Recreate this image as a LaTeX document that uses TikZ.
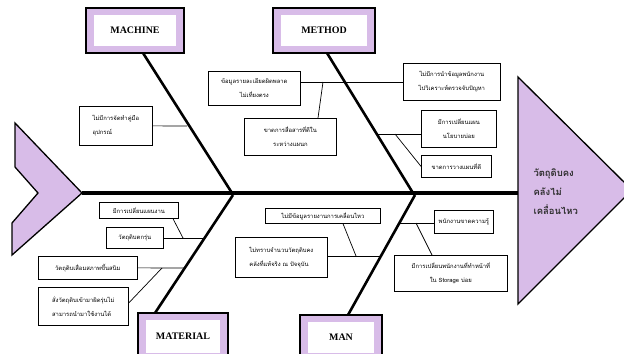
\documentclass[tikz,border=0pt]{standalone}
\usepackage{fontspec}
\setmainfont{Liberation Serif}
\newfontfamily\thaifont[Script=Thai]{Loma}
\definecolor{lav}{HTML}{D8BCE8}
\definecolor{headtxt}{HTML}{2E2E2E}
\begin{document}
\begin{tikzpicture}[x=1bp,y=-1bp,
  sub/.style={draw=black,line width=0.7bp,fill=white,font=\thaifont\fontsize{5.9}{14}\selectfont,align=center,inner sep=0pt},
  twig/.style={draw=black,line width=0.7bp},
  bone/.style={draw=black,line width=2.6bp},
  catlbl/.style={font=\bfseries\fontsize{10}{12}\selectfont}]
\useasboundingbox (0,0) rectangle (624,353);
% tail
\draw[fill=lav,line width=1.3bp] (15,123) -- (82,193) -- (12,255) -- (12,223) -- (38,193) -- (15,167) -- cycle;
% head
\draw[fill=lav,line width=1.3bp] (518,77) -- (632,190) -- (518,304) -- cycle;
\node[anchor=west,font=\thaifont\bfseries\fontsize{9.5}{19}\selectfont,text=headtxt,align=left] (head) at (530,192) {วัตถุดิบคง\\คลังไม่\\เคลื่อนไหว};
% spine
\coordinate (sp0) at (82,193);
\coordinate (sp1) at (518,193);
\draw[line width=3.6bp] (sp0) -- (sp1);
% category boxes
\foreach \nm/\xa/\ya/\xb/\yb/\lbl in {mach/86/8/184/53/MACHINE, meth/273/8/375/53/METHOD, mat/138/313/228/360/MATERIAL, man/300/315/382/360/MAN}{
  \draw[fill=lav,line width=1.2bp] (\xa,\ya) rectangle (\xb,\yb);
  \fill[white] (\xa+8,\ya+7) rectangle (\xb-8,\yb-7);
  \node[catlbl] (\nm) at ({(\xa+\xb)/2},{(\ya+\yb)/2}) {\lbl};
}
% bones
\coordinate (b1a) at (143,53);  \coordinate (b1b) at (232,193);
\coordinate (b2a) at (327,53);  \coordinate (b2b) at (413,193);
\coordinate (b3a) at (155,313); \coordinate (b3b) at (233,195);
\coordinate (b4a) at (348,315); \coordinate (b4b) at (415,195);
\draw[bone] (b1a) -- (b1b);
\draw[bone] (b2a) -- (b2b);
\draw[bone] (b3a) -- (b3b);
\draw[bone] (b4a) -- (b4b);
% MACHINE
\node[sub,minimum width=73bp,minimum height=39bp,align=left,anchor=north west] (m1) at (79,106) {ไม่มีการจัดทำคู่มือ\\อุปกรณ์};
\coordinate (m1j) at (187,126);
\draw[twig] (m1.east) -- (m1j);
% METHOD
\node[sub,minimum width=92bp,minimum height=34bp,anchor=north west] (t1) at (208,71) {ข้อมูลรายละเอียดผิดพลาด\\ไม่เที่ยงตรง};
\node[sub,minimum width=92bp,minimum height=37bp,anchor=north west] (t2) at (244,118) {ขาดการสื่อสารที่ดีใน\\ระหว่างแผนก};
\node[sub,minimum width=97bp,minimum height=37bp,anchor=north west] (t3) at (403,63) {ไม่มีการนำข้อมูลพนักงาน\\ไปวิเคราะห์ตรวจจับปัญหา};
\node[sub,minimum width=75bp,minimum height=37bp,anchor=north west] (t4) at (421,110) {มีการเปลี่ยนแผน\\นโยบายบ่อย};
\node[sub,minimum width=70bp,minimum height=22bp,anchor=north west] (t5) at (421,155) {ขาดการวางแผนที่ดี};
\draw[twig] (t1.east |- 0,82) -- (t3.west |- 0,82);
\coordinate (t2j) at (323,82);
\draw[twig] (t2j) -- (t2.north -| 318,0);
\coordinate (t4j) at (377,134);
\draw[twig] (t4j) -- (t4.west |- 0,134);
\coordinate (t5j) at (395,134);
\draw[twig] (t5j) -- (t5.west);
% MATERIAL
\node[sub,minimum width=79bp,minimum height=16bp,anchor=north west] (a1) at (99,202) {มีการเปลี่ยนแผนงาน};
\node[sub,minimum width=57bp,minimum height=21bp,anchor=north west] (a2) at (106,227) {วัตถุดิบตกรุ่น};
\node[sub,minimum width=99bp,minimum height=23bp,anchor=north west] (a3) at (38,256) {วัตถุดิบเสื่อมสภาพขึ้นสนิม};
\node[sub,minimum width=90bp,minimum height=38bp,align=left,anchor=north west] (a4) at (38,287) {สั่งวัตถุดิบเข้ามาผิดรุ่นไม่\\สามารถนำมาใช้งานได้};
\coordinate (a2j) at (205,238);
\draw[twig] (a2.east |- 0,238) -- (a2j);
\coordinate (a1j) at (183,238);
\draw[twig] (a1.south -| 173,0) -- (a1j);
\coordinate (a3j) at (185,268);
\draw[twig] (a3.east) -- (a3j);
\coordinate (a4j) at (162,268);
\draw[twig] (a4.east |- 0,303) -- (a4j);
% MAN
\node[sub,minimum width=115bp,minimum height=15bp,anchor=north west] (n1) at (265,208) {ไม่มีข้อมูลรายงานการเคลื่อนไหว};
\node[sub,minimum width=92bp,minimum height=40bp,align=left,anchor=north west] (n2) at (235,237) {ไม่ทราบจำนวนวัตถุดิบคง\\คลังที่แท้จริง ณ ปัจจุบัน};
\node[sub,minimum width=59bp,minimum height=23bp,anchor=north west] (n3) at (434,210) {พนักงานขาดความรู้};
\node[sub,minimum width=113bp,minimum height=36bp,anchor=north west] (n4) at (394,255) {มีการเปลี่ยนพนักงานที่ทำหน้าที่\\ใน Storage บ่อย};
\coordinate (n2j) at (380,256);
\draw[twig] (n2.east |- 0,256) -- (n2j);
\coordinate (n1j) at (356,256);
\draw[twig] (n1.south -| 343,0) -- (n1j);
\coordinate (n3j) at (399,223);
\draw[twig] (n3j) -- (n3.west |- 0,223);
\coordinate (n4j) at (416,223);
\draw[twig] (n4j) -- (n4.north -| 432,0);
\end{tikzpicture}
\end{document}
